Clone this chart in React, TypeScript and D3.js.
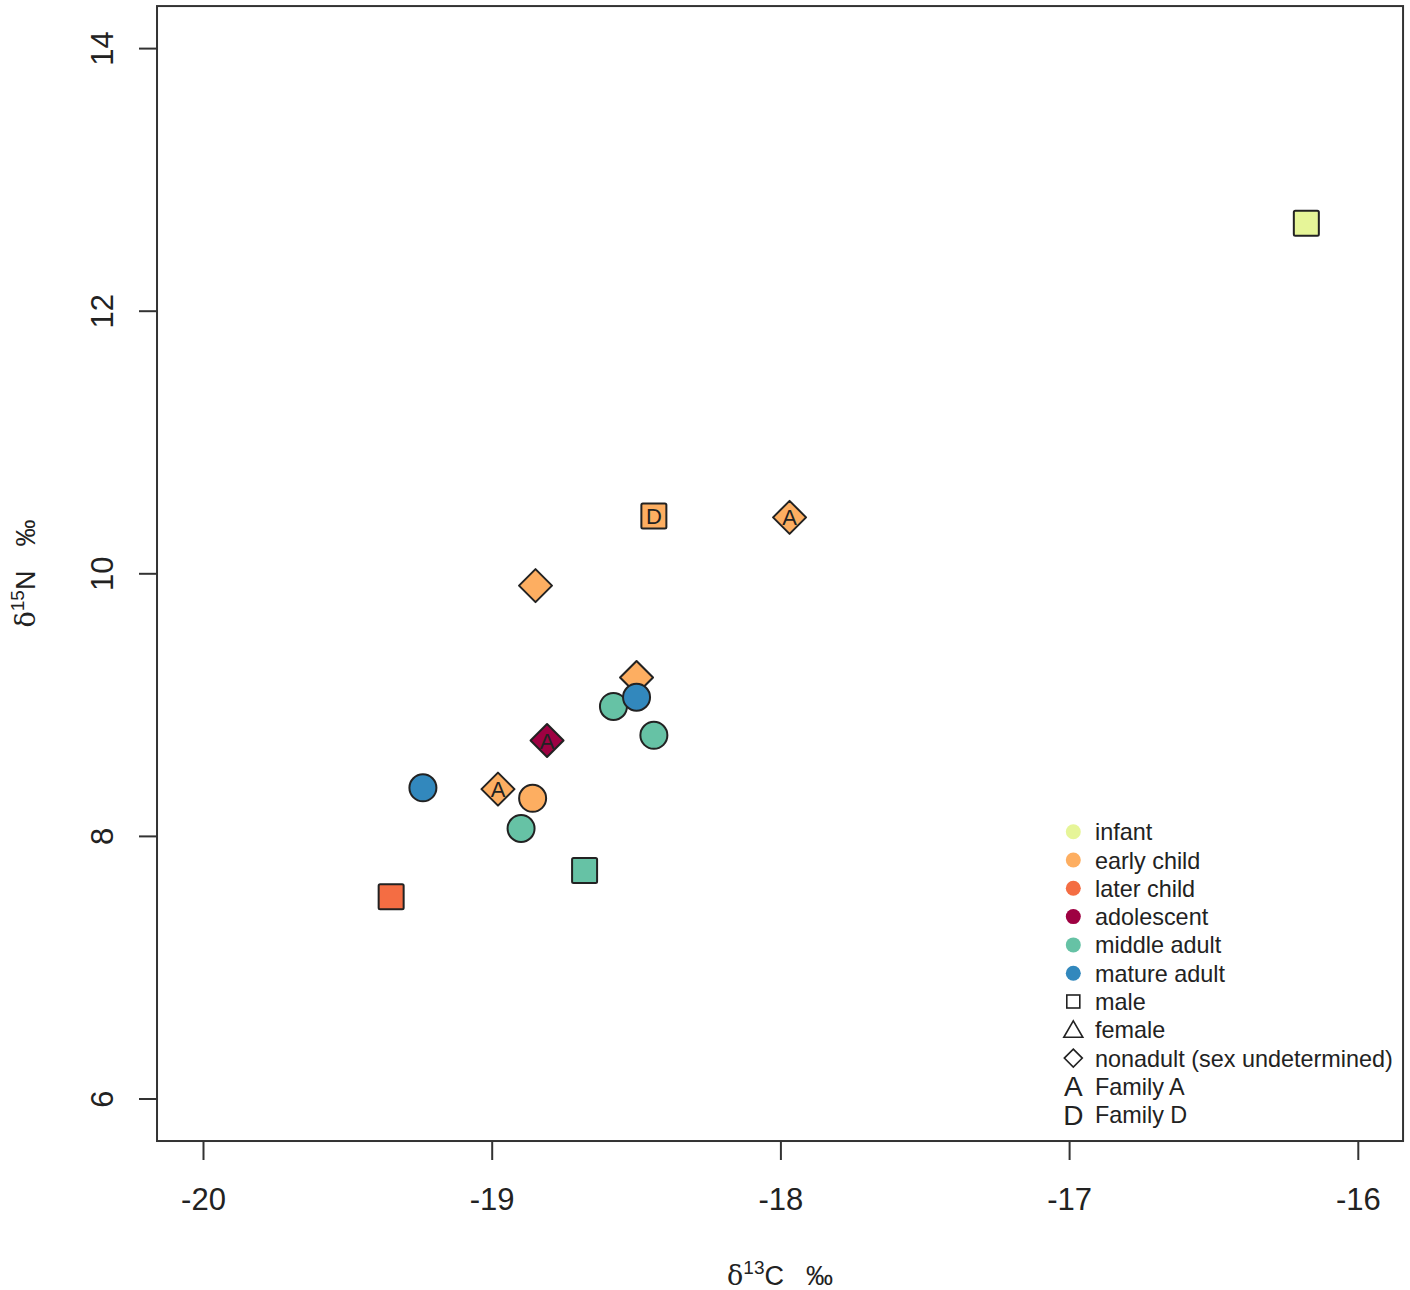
import React, { useEffect } from "react";
import * as d3 from "d3";

// ---- data ----
const ageGroups = ["infant", "early child", "later child", "adolescent", "middle adult", "mature adult"];
const ageColors = ["#e6f598", "#fdae61", "#f46d43", "#9e0142", "#66c2a5", "#3288bd"];

// points (draw order)
const d13C = [-16.18, -18.44, -17.97, -18.85, -18.5, -18.81, -18.98, -18.86, -18.58, -18.44, -18.9, -18.68, -19.35, -18.5, -19.24];
const d15N = [12.67, 10.44, 10.43, 9.91, 9.21, 8.73, 8.36, 8.29, 8.99, 8.77, 8.06, 7.74, 7.54, 9.06, 8.37];
const pointGroup = [
  "infant", "early child", "early child", "early child", "early child", "adolescent", "early child", "early child",
  "middle adult", "middle adult", "middle adult", "middle adult", "later child", "mature adult", "mature adult",
];
const pointShape = [
  "square", "square", "diamond", "diamond", "diamond", "diamond", "diamond", "circle",
  "circle", "circle", "circle", "square", "square", "circle", "circle",
];
const pointFamily = ["", "D", "A", "", "", "A", "A", "", "", "", "", "", "", "", ""];

const xTicks = [-20, -19, -18, -17, -16];
const yTicks = [6, 8, 10, 12, 14];
const xLim = [-20.161, -15.845];
const yLim = [5.68, 14.324];

const shapeLegend = [
  { shape: "square", label: "male" },
  { shape: "triangle", label: "female" },
  { shape: "diamond", label: "nonadult (sex undetermined)" },
];
const familyLegend = [
  { letter: "A", label: "Family A" },
  { letter: "D", label: "Family D" },
];

const SANS = "'Liberation Sans', Arial, Helvetica, sans-serif";
const SERIF = "'DejaVu Serif', 'Liberation Serif', serif";
const INK = "#222";

export default function App() {
  useEffect(() => {
    document.body.style.margin = "0";
  }, []);

  const W = 1410;
  const H = 1290;
  const x = d3.scaleLinear().domain([-20, -16]).range([203.5, 1358.3]);
  const y = d3.scaleLinear().domain([6, 14]).range([1099, 48.6]);
  const color = d3.scaleOrdinal<string, string>().domain(ageGroups).range(ageColors);

  const left = x(xLim[0]);
  const right = x(xLim[1]);
  const top = y(yLim[1]);
  const bottom = y(yLim[0]);

  const marker = (shape: string, cx: number, cy: number, fill: string, key: string) => {
    if (shape === "square") {
      const s = 25;
      return <rect key={key} x={cx - s / 2} y={cy - s / 2} width={s} height={s} rx={1.5} fill={fill} stroke={INK} strokeWidth={2} />;
    }
    if (shape === "diamond") {
      const r = 16.5;
      return (
        <path key={key} d={`M${cx},${cy - r}L${cx + r},${cy}L${cx},${cy + r}L${cx - r},${cy}Z`} fill={fill} stroke={INK} strokeWidth={2} strokeLinejoin="round" />
      );
    }
    return <circle key={key} cx={cx} cy={cy} r={13.5} fill={fill} stroke={INK} strokeWidth={2} />;
  };

  const legX = 1073.3;
  const legTextX = 1095;
  const legY0 = 831.7;
  const legDy = 28.3;
  const legFont = 23.4;

  return (
    <svg width={W} height={H} style={{ display: "block", background: "#fff" }} fontFamily={SANS}>
      <rect x={0} y={0} width={W} height={H} fill="#fff" />
      {/* plot box */}
      <rect x={left} y={top} width={right - left} height={bottom - top} fill="none" stroke="#333" strokeWidth={2} />

      {/* x axis */}
      {xTicks.map((t) => (
        <g key={"xt" + t}>
          <line x1={x(t)} x2={x(t)} y1={bottom} y2={bottom + 19} stroke="#333" strokeWidth={2} />
          <text x={x(t)} y={bottom + 69} textAnchor="middle" fontSize={31} fill={INK}>
            {String(t)}
          </text>
        </g>
      ))}
      {/* y axis */}
      {yTicks.map((t) => (
        <g key={"yt" + t}>
          <line x1={left - 18} x2={left} y1={y(t)} y2={y(t)} stroke="#333" strokeWidth={2} />
          <text transform={`translate(${left - 44.5},${y(t)}) rotate(-90)`} textAnchor="middle" fontSize={31} fill={INK}>
            {String(t)}
          </text>
        </g>
      ))}

      {/* axis titles */}
      <text x={(left + right) / 2} y={1285} textAnchor="middle" fontSize={27} fill={INK}>
        <tspan fontFamily={SERIF}>δ</tspan>
        <tspan dy={-11} fontSize={19}>13</tspan>
        <tspan dy={11}>C</tspan>
        <tspan dx={22}>‰</tspan>
      </text>
      <text transform={`translate(35,${(top + bottom) / 2}) rotate(-90)`} textAnchor="middle" fontSize={27} fill={INK}>
        <tspan fontFamily={SERIF}>δ</tspan>
        <tspan dy={-11} fontSize={19}>15</tspan>
        <tspan dy={11}>N</tspan>
        <tspan dx={24}>‰</tspan>
      </text>

      {/* points */}
      {d13C.map((cx, i) => {
        const px = x(cx);
        const py = y(d15N[i]);
        return (
          <g key={"p" + i}>
            {marker(pointShape[i], px, py, color(pointGroup[i]), "m" + i)}
            {pointFamily[i] && (
              <text x={px} y={py + 8} textAnchor="middle" fontSize={22} fill={INK}>
                {pointFamily[i]}
              </text>
            )}
          </g>
        );
      })}

      {/* legend */}
      {ageGroups.map((g, i) => (
        <g key={"lg" + g}>
          <circle cx={legX} cy={legY0 + i * legDy} r={7.5} fill={color(g)} />
          <text x={legTextX} y={legY0 + i * legDy + 8.5} fontSize={legFont} fill={INK}>
            {g}
          </text>
        </g>
      ))}
      {shapeLegend.map((s, j) => {
        const i = ageGroups.length + j;
        const cy = legY0 + i * legDy;
        let sym;
        if (s.shape === "square") {
          sym = <rect x={legX - 6.5} y={cy - 6.5} width={13} height={13} fill="none" stroke={INK} strokeWidth={1.6} />;
        } else if (s.shape === "triangle") {
          sym = <path d={`M${legX},${cy - 9}L${legX + 9.5},${cy + 7.5}L${legX - 9.5},${cy + 7.5}Z`} fill="none" stroke={INK} strokeWidth={1.6} />;
        } else {
          sym = <path d={`M${legX},${cy - 9}L${legX + 9},${cy}L${legX},${cy + 9}L${legX - 9},${cy}Z`} fill="none" stroke={INK} strokeWidth={1.6} />;
        }
        return (
          <g key={"ls" + s.label}>
            {sym}
            <text x={legTextX} y={cy + 8.5} fontSize={legFont} fill={INK}>
              {s.label}
            </text>
          </g>
        );
      })}
      {familyLegend.map((f, j) => {
        const i = ageGroups.length + shapeLegend.length + j;
        const cy = legY0 + i * legDy;
        return (
          <g key={"lf" + f.letter}>
            <text x={legX} y={cy + 10} textAnchor="middle" fontSize={28} fill={INK}>
              {f.letter}
            </text>
            <text x={legTextX} y={cy + 8.5} fontSize={legFont} fill={INK}>
              {f.label}
            </text>
          </g>
        );
      })}
    </svg>
  );
}
